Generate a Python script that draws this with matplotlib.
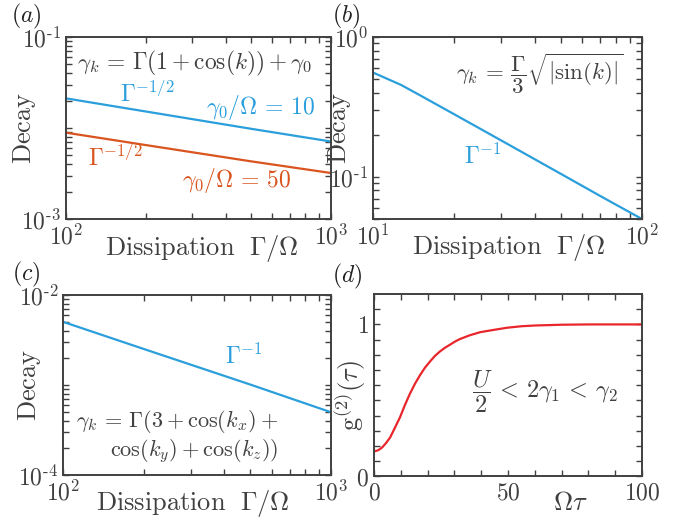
import matplotlib
matplotlib.use("Agg")
import matplotlib.pyplot as plt
from matplotlib.ticker import FixedLocator, FixedFormatter, NullFormatter

plt.rcParams["mathtext.fontset"] = "cm"
plt.rcParams["font.family"] = ["DejaVu Serif"]

GRAY = "#404040"
BLUE = "#2a9fdc"
ORANGE = "#d9541e"
RED = "#e8262b"

# (a) decay vs dissipation, two background rates
gamma_a = [100, 200, 500, 1000]
decay_a_g10 = [0.0212, 0.0152, 0.0098, 0.0071]
decay_a_g50 = [0.0089, 0.0065, 0.0043, 0.0032]

# (b) decay vs dissipation, sqrt|sin k| dispersion
gamma_b = [10, 12.7, 15, 20, 30, 50, 70, 100]
decay_b = [0.557, 0.455, 0.382, 0.281, 0.182, 0.105, 0.073, 0.050]

# (c) decay vs dissipation, 3D lattice
gamma_c = [100, 200, 500, 1000]
decay_c = [0.00502, 0.00251, 0.00101, 0.000498]

# (d) second-order correlation
tau_d = [0, 1.5, 3, 4.5, 6, 7.8, 9.7, 11.5, 13.4, 15.3, 17.2, 19, 20.9, 22.7,
         24.6, 26.5, 28.4, 30.2, 32.1, 35.8, 39.6, 43.3, 49.5, 55, 60, 70,
         80, 90, 100]
g2_d = [0.165, 0.172, 0.19, 0.22, 0.256, 0.32, 0.389, 0.468, 0.544, 0.61,
        0.667, 0.715, 0.756, 0.792, 0.822, 0.847, 0.867, 0.887, 0.904, 0.929,
        0.949, 0.96, 0.978, 0.988, 0.993, 0.998, 1.0, 1.0, 1.0]

FS = 17

fig = plt.figure(figsize=(6.95, 5.19), dpi=100)

ax_a = fig.add_axes([0.0945, 0.578, 0.382, 0.3507])
ax_b = fig.add_axes([0.5367, 0.578, 0.387, 0.3507])
ax_c = fig.add_axes([0.0911, 0.0848, 0.3852, 0.3468])
ax_d = fig.add_axes([0.5381, 0.0819, 0.3856, 0.3516])


def style(ax):
    for s in ax.spines.values():
        s.set_color(GRAY)
        s.set_linewidth(1.4)
    ax.tick_params(which="both", direction="in", top=True, right=True,
                   color=GRAY, labelcolor=GRAY, labelsize=FS, width=1.0)
    ax.tick_params(which="major", length=4.5)
    ax.tick_params(which="minor", length=4)


def log_ticks(ax, axis, majors, labels):
    a = ax.xaxis if axis == "x" else ax.yaxis
    a.set_major_locator(FixedLocator(majors))
    a.set_major_formatter(FixedFormatter(labels))
    a.set_minor_formatter(NullFormatter())


def note(ax, x, y, s, color=GRAY, ha="center", size=17):
    ax.text(x, y, s, transform=ax.transAxes, ha=ha, va="center",
            fontsize=size, color=color)


# ---- (a)
ax_a.plot(gamma_a, decay_a_g10, color=BLUE, lw=1.6)
ax_a.plot(gamma_a, decay_a_g50, color=ORANGE, lw=1.6)
ax_a.set_xscale("log")
ax_a.set_yscale("log")
ax_a.set_xlim(100, 1000)
ax_a.set_ylim(1e-3, 1e-1)
style(ax_a)
log_ticks(ax_a, "x", [100, 1000], [r"$10^{2}$", r"$10^{3}$"])
log_ticks(ax_a, "y", [1e-3, 1e-2, 1e-1], [r"$10^{\text{-}3}$", "", r"$10^{\text{-}1}$"])
ax_a.set_ylabel(r"$\mathrm{Decay}$", fontsize=FS + 2, color=GRAY)
ax_a.yaxis.set_label_coords(-0.105, 0.5)
ax_a.set_xlabel(r"$\mathrm{Dissipation}\ \ \Gamma/\Omega$", fontsize=FS + 2, color=GRAY)
ax_a.xaxis.set_label_coords(0.512, -0.077)
note(ax_a, 0.487, 0.857, r"$\gamma_k\,=\,\Gamma(1+\cos(k))+\gamma_0$", size=16.8)
note(ax_a, 0.307, 0.69, r"$\Gamma^{-1/2}$", BLUE)
note(ax_a, 0.733, 0.613, r"$\gamma_0/\Omega\,=\,10$", BLUE)
note(ax_a, 0.186, 0.335, r"$\Gamma^{-1/2}$", ORANGE)
note(ax_a, 0.645, 0.21, r"$\gamma_0/\Omega\,=\,50$", ORANGE)

# ---- (b)
ax_b.plot(gamma_b, decay_b, color=BLUE, lw=1.6)
ax_b.set_xscale("log")
ax_b.set_yscale("log")
ax_b.set_xlim(10, 100)
ax_b.set_ylim(0.05, 1)
style(ax_b)
log_ticks(ax_b, "x", [10, 100], [r"$10^{1}$", r"$10^{2}$"])
log_ticks(ax_b, "y", [0.1, 1], [r"$10^{\text{-}1}$", r"$10^{0}$"])
ax_b.set_ylabel(r"$\mathrm{Decay}$", fontsize=FS + 2, color=GRAY)
ax_b.yaxis.set_label_coords(-0.075, 0.5)
ax_b.set_xlabel(r"$\mathrm{Dissipation}\ \ \Gamma/\Omega$", fontsize=FS + 2, color=GRAY)
ax_b.xaxis.set_label_coords(0.504, -0.071)
note(ax_b, 0.619, 0.797, r"$\gamma_k\,=\,\dfrac{\Gamma}{3}\sqrt{|\sin(k)|}$", size=16.5)
note(ax_b, 0.407, 0.346, r"$\Gamma^{-1}$", BLUE)

# ---- (c)
ax_c.plot(gamma_c, decay_c, color=BLUE, lw=1.6)
ax_c.set_xscale("log")
ax_c.set_yscale("log")
ax_c.set_xlim(100, 1000)
ax_c.set_ylim(1e-4, 1e-2)
style(ax_c)
log_ticks(ax_c, "x", [100, 1000], [r"$10^{2}$", r"$10^{3}$"])
log_ticks(ax_c, "y", [1e-4, 1e-3, 1e-2], [r"$10^{\text{-}4}$", "", r"$10^{\text{-}2}$"])
ax_c.set_ylabel(r"$\mathrm{Decay}$", fontsize=FS + 2, color=GRAY)
ax_c.yaxis.set_label_coords(-0.076, 0.5)
ax_c.set_xlabel(r"$\mathrm{Dissipation}\ \ \Gamma/\Omega$", fontsize=FS + 2, color=GRAY)
ax_c.xaxis.set_label_coords(0.483, -0.072)
note(ax_c, 0.673, 0.661, r"$\Gamma^{-1}$", BLUE)
note(ax_c, 0.802, 0.297, r"$\gamma_k\,=\,\Gamma(3+\cos(k_x)+$", ha="right", size=16)
note(ax_c, 0.802, 0.133, r"$\cos(k_y)+\cos(k_z))$", ha="right", size=16)

# ---- (d)
ax_d.plot(tau_d, g2_d, color=RED, lw=1.6)
ax_d.set_xlim(0, 100)
ax_d.set_ylim(0, 1.2)
style(ax_d)
ax_d.xaxis.set_major_locator(FixedLocator([0, 50, 100]))
ax_d.xaxis.set_minor_locator(FixedLocator([10, 20, 30, 40, 60, 70, 80, 90]))
ax_d.yaxis.set_major_locator(FixedLocator([0, 1]))
ax_d.yaxis.set_minor_locator(FixedLocator([0.1, 0.2, 0.3, 0.4, 0.5, 0.6, 0.7, 0.8, 0.9, 1.1]))
ax_d.set_xticklabels([r"$0$", r"$50$", r"$100$"])
ax_d.set_yticklabels([r"$0$", r"$1$"])
ax_d.set_ylabel(r"$\mathrm{g}^{(2)}(\tau)$", fontsize=FS + 2, color=GRAY)
ax_d.yaxis.set_label_coords(-0.022, 0.445)
ax_d.set_xlabel(r"$\Omega\tau$", fontsize=FS + 2, color=GRAY)
ax_d.xaxis.set_label_coords(0.731, -0.074)
note(ax_d, 0.638, 0.466, r"$\dfrac{U}{2}\,<\,2\gamma_1\,<\,\gamma_2$", size=17.5)

# panel tags
for x, y, t in [(0.038, 0.969, "(a)"), (0.498, 0.969, "(b)"),
                (0.038, 0.472, "(c)"), (0.499, 0.468, "(d)")]:
    fig.text(x, y, r"$%s$" % t, ha="center", va="center", fontsize=FS, color="#202020")

fig.savefig("out.png", dpi=100)
